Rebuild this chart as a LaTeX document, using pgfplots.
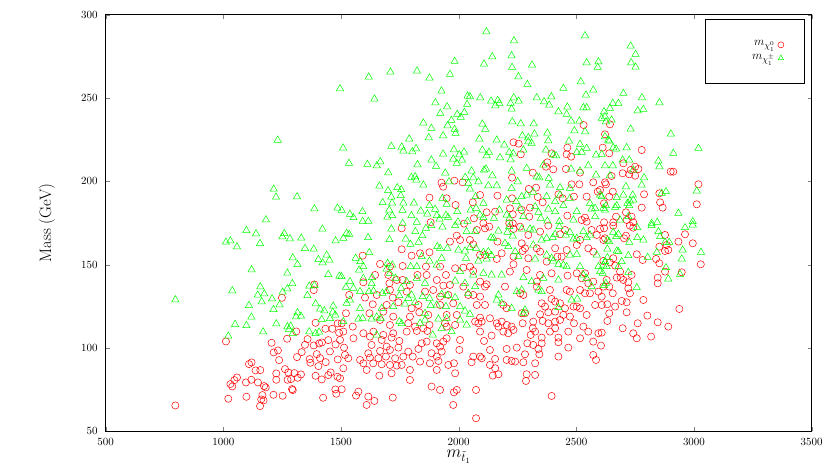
\documentclass[border=0pt]{standalone}
\usepackage{pgfplots}
\pgfplotsset{compat=1.18}
\begin{document}
\begin{tikzpicture}
\useasboundingbox (-105.7pt,-40.7pt) rectangle (724.4pt,431.3pt);
\begin{axis}[
    scale only axis,
    width=706pt,
    height=416.6pt,
    xmin=500, xmax=3500,
    ymin=50, ymax=300,
    xtick={500,1000,...,3500},
    ytick={50,100,...,300},
    /pgf/number format/1000 sep={},
    scaled ticks=false,
    tick align=inside,
    major tick length=4pt,
    axis line style={line width=0.8pt},
    tick label style={font=\fontsize{11}{13}\selectfont},
    xticklabel style={yshift=-3.5pt},
    yticklabel style={xshift=-4.5pt},
    xlabel={$m_{\tilde t_1}$},
    ylabel={Mass (GeV)},
    label style={font=\fontsize{16.5}{20}\selectfont},
    xlabel style={at={(axis description cs:0.5,-0.061)}, anchor=center},
    ylabel style={at={(axis description cs:-0.083,0.5)}, anchor=center},
    legend cell align=right,
    legend plot pos=right,
    legend image post style={mark size=3pt},
    legend style={at={(rel axis cs:0.9895,0.9897)}, anchor=north east,
        font=\fontsize{12.5}{15}\selectfont,
        draw=black, line width=0.6pt, inner xsep=20pt, inner ysep=19pt,
        nodes={inner xsep=3pt, inner ysep=2.5pt, text depth=0.3em}},
]
% neutralino
\addplot[only marks, mark=o, mark size=3.6pt, red, line width=0.5pt] table {
x y
796 65.5
1011 103.9
1205 103.1
1249 130.1
1271 105.5
1310 109.9
1358 105.3
1384 134.7
1387 138.1
1392 115.1
1434 111.5
1463 111.5
1486 114.7
1492 109.1
1214 97.3
1232 98.5
1237 92.7
1313 94.5
1333 97.5
1347 101.9
1384 101.5
1407 102.7
1419 103.3
1446 104.7
1477 102.1
1367 93.3
1370 91.1
1397 96.3
1411 93.9
1435 91.5
1453 97.9
1486 93.1
1109 90.3
1120 91.3
1137 86.5
1157 86.7
1262 87.3
1276 85.3
1288 81.3
1302 84.9
1330 84.1
1225 84.7
1225 80.9
1273 80.9
1316 82.1
1392 83.3
1404 89.1
1446 83.7
1456 85.3
1418 81.1
1485 82.7
1058 82.3
1047 80.7
1030 78.3
1038 76.9
1096 79.3
1119 80.9
1147 79.3
1173 77.1
1180 76.3
1292 75.3
1295 74.7
1476 75.1
1480 72.5
1021 69.5
1098 70.7
1166 71.7
1171 68.5
1161 69.1
1156 65.1
1213 71.9
1252 71.3
1424 70.1
1927 199.2
1934 196.8
1982 200.4
2017 199.4
1876 190.2
1949 189.8
1987 185.8
1881 175.4
2023 174.6
1758 171.8
1758 159.2
1800 155.4
1836 156.8
1876 157.4
1963 163.8
1992 167.4
2006 164.8
1592 155.4
1666 150.4
1708 148.8
1762 149.2
1861 148.8
1921 148.8
1985 147.8
2020 148.2
1645 143.8
1701 143.8
1737 140.8
1825 143.8
1864 143.8
1946 143.8
1595 139.4
1706 138.8
1762 140.8
1793 137.8
1907 140.8
1935 137.4
1963 137.8
2020 136.8
2041 131.8
1535 131.8
1602 130.2
1652 131.8
1708 134.8
1720 130.2
1779 133.8
1857 133.8
1892 134.8
1921 130.8
1956 131.8
1635 126.2
1694 125.8
1744 127.4
1800 123.8
1829 125.8
1921 125.8
1977 126.8
1521 120.8
1621 120.8
1680 121.8
1722 118.8
1793 118.8
1833 121.4
1871 119.8
1949 119.8
1992 119.8
1503 114.8
1550 112.8
1666 116.8
1708 113.8
1786 114.8
1815 112.8
1850 111.8
1876 113.8
1942 114.8
1985 113.8
1510 109.8
1595 108.8
1638 109.8
1680 107.8
1722 108.8
1779 109.8
1822 110.2
1867 110.2
1949 112.8
1496 104.8
1553 105.8
1623 106.8
1673 104.8
1715 106.2
1748 104.2
1843 102.8
1864 103.8
1907 102.8
1935 103.8
1949 105.8
2006 104.8
1513 100.2
1630 101.8
1694 100.8
1744 100.2
1829 99.4
1921 100.8
2003 98.8
1517 95.8
1616 96.8
1666 98.2
1708 98.8
1786 97.8
1885 96.8
1928 97.8
1531 93.8
1581 92.8
1623 94.2
1659 93.8
1691 94.8
1730 93.8
1765 94.8
1805 94.8
1907 94.8
1914 92.2
1595 90.8
1637 90.8
1673 90.2
1708 89.8
1737 89.4
1836 91.8
1878 90.8
1956 89.8
1980 90.8
1510 87.8
1609 86.8
1758 89.8
1793 86.8
1907 86.8
1985 84.8
1663 83.4
1715 84.8
1793 80.8
1496 81.8
1885 76.8
1921 74.8
1992 74.8
1503 75.2
1574 73.8
1564 71.4
1616 70.8
1642 68.2
1609 65.8
1720 70.2
1980 73.4
1977 65.8
2531 233.8
2233 223.4
2255 222.6
2264 216.2
2395 216.8
2462 220.2
2459 216.2
2478 214.8
2377 211.4
2371 208.8
2402 207.2
2456 207.4
2315 205.2
2516 205.2
2227 202.2
2480 198.2
2513 198.2
2572 199.4
2298 195.4
2329 196.2
2091 191.8
2165 191.4
2336 190.6
2357 187.4
2227 189.8
2424 192.2
2442 189.8
2490 190.8
2544 190.8
2591 193.8
2060 187.4
2303 184.2
2218 183.8
2268 182.8
2119 181.4
2155 181.8
2462 179.4
2065 177.8
2230 180.2
2300 178.8
2537 178.2
2523 176.8
2544 175.8
2105 174.8
2215 174.8
2230 174.8
2077 170.8
2112 171.8
2130 172.8
2233 171.4
2261 172.8
2296 167.8
2346 169.8
2381 173.4
2431 168.2
2452 170.8
2565 170.8
2587 167.8
2516 164.8
2502 161.8
2048 164.8
2062 162.2
2165 163.8
2268 162.8
2282 159.8
2272 158.2
2346 157.8
2332 159.8
2410 159.8
2420 154.8
2438 154.8
2459 158.8
2551 159.8
2572 157.8
2091 155.8
2112 155.8
2162 153.4
2183 156.8
2233 154.8
2233 150.2
2296 153.8
2374 151.8
2048 148.8
2062 146.2
2218 145.8
2289 146.8
2346 143.8
2395 144.8
2463 143.4
2502 144.8
2523 141.8
2537 144.8
2551 138.8
2572 139.8
2091 139.8
2112 136.8
2119 138.2
2197 136.8
2261 132.8
2275 131.8
2332 139.8
2332 136.8
2388 134.8
2395 129.4
2410 127.8
2459 134.8
2473 133.8
2537 132.8
2558 132.8
2594 133.8
2516 134.8
2062 131.8
2091 130.8
2077 125.8
2112 125.8
2190 125.8
2204 123.8
2353 126.8
2367 124.8
2431 126.8
2452 123.8
2488 124.8
2502 124.8
2516 123.8
2580 125.8
2091 118.2
2133 117.8
2268 120.8
2282 120.8
2346 120.2
2381 121.4
2410 121.8
2445 119.8
2473 118.8
2544 119.8
2070 115.8
2084 114.8
2098 115.8
2162 114.8
2183 115.8
2204 113.8
2225 112.8
2190 109.8
2211 108.8
2233 110.8
2169 112.8
2272 114.8
2317 115.8
2357 116.2
2381 114.8
2410 115.8
2431 116.8
2490 114.8
2530 112.8
2091 109.8
2315 111.8
2325 109.8
2306 107.8
2353 106.2
2388 109.8
2410 111.8
2466 109.8
2516 105.8
2551 109.8
2594 108.8
2140 107.4
2108 104.2
2424 106.2
2424 103.4
2292 102.8
2317 101.8
2353 102.8
2572 103.8
2133 98.8
2204 99.4
2247 100.2
2282 96.2
2339 99.4
2343 96.2
2466 100.2
2062 94.8
2091 94.8
2098 93.8
2055 91.4
2155 93.4
2204 92.8
2225 92.2
2240 91.8
2275 91.4
2325 90.8
2424 94.8
2572 95.8
2584 92.8
2133 89.8
2155 87.8
2169 84.2
2145 83.4
2289 84.2
2325 83.8
2286 80.2
2074 74.8
2395 71.2
2074 57.8
2643 234.2
2622 228.2
2612 220.2
2640 216.8
2778 218.8
2700 210.8
2750 208.8
2764 207.4
2731 206.8
2697 204.8
2725 204.2
2750 203.4
2650 203.2
2901 205.8
2912 205.8
2622 199.4
2626 198.2
3019 198.2
2655 193.8
2788 192.2
2853 192.8
2640 190.8
2601 194.8
2856 187.4
2867 184.2
2778 184.2
3012 186.2
2618 186.8
2711 181.4
2669 178.8
2735 178.8
2618 175.4
2657 175.4
2714 176.8
2742 175.4
2657 173.4
2728 173.4
2742 172.2
2601 171.4
2618 171.8
2622 165.8
2615 164.8
2711 167.4
2703 165.8
2877 167.8
2962 168.2
2934 163.8
2995 162.8
2853 160.8
2884 161.8
2891 158.8
2877 158.2
2839 153.4
2853 150.8
2757 156.2
2782 152.8
2657 153.8
2643 151.4
2615 152.2
2665 149.4
2686 145.8
3029 150.2
2877 145.8
2948 145.4
2846 142.2
2846 138.8
2735 143.8
2721 139.4
2672 142.2
2689 142.2
2700 140.8
2629 140.8
2640 136.8
2615 136.8
2721 135.8
2728 132.8
2655 132.8
2608 130.8
2608 125.8
2693 128.2
2714 127.4
2785 128.8
2665 124.8
2632 126.2
2938 123.4
2640 120.8
2632 116.2
2714 121.4
2802 119.4
2761 114.8
2846 115.4
2891 112.8
2697 111.8
2608 109.2
2742 108.8
2757 105.8
2818 106.8
2605 101.4
};
\addlegendentry{\hspace*{24pt}$m_{\chi^0_1}$}
% chargino
\addplot[only marks, mark=triangle, mark size=4.2pt, green, line width=0.5pt] table {
x y
1231 224.7
1214 195.3
1224 190.5
1313 190.7
1387 183.5
1485 183.9
1181 176.9
1098 170.5
1139 168.5
1259 168.7
1251 166.7
1283 165.5
1331 165.9
1421 171.3
1477 164.3
1011 163.5
1030 164.3
1058 160.7
1156 162.7
1347 159.7
1384 159.3
1295 154.1
1315 150.1
1404 153.1
1439 155.7
1422 151.1
1451 152.7
1120 146.9
1272 144.9
1446 144.1
1493 143.1
796 128.9
1038 134.3
1157 136.7
1146 131.7
1174 132.5
1163 127.7
1207 129.5
1252 133.5
1272 135.5
1293 138.7
1357 131.5
1365 137.1
1387 137.5
1109 125.5
1213 123.1
1239 125.9
1392 126.5
1467 125.1
1411 123.3
1429 122.3
1465 121.5
1476 119.7
1119 118.5
1315 121.1
1309 118.7
1330 119.1
1453 117.7
1418 117.1
1050 114.1
1098 113.5
1225 114.5
1272 112.7
1286 113.1
1169 109.7
1021 107.1
1365 109.7
1392 108.7
1407 109.5
1295 108.7
1279 111.1
1983 272.0
1710 265.6
1618 262.6
1823 266.2
1876 262.0
1963 264.2
1496 255.6
1642 249.4
1927 254.2
2038 251.2
1901 247.2
1951 244.8
2036 246.2
1922 240.8
1994 240.2
2009 238.4
2024 241.4
1850 235.0
1969 236.6
1953 233.4
1884 231.8
1983 231.2
1987 228.8
1790 225.4
1873 226.2
1934 227.4
1509 220.0
1714 221.0
1758 220.6
1765 218.2
1803 217.8
1819 219.6
1934 216.4
1980 219.0
2003 216.0
2023 217.6
1977 213.4
2014 212.8
1992 210.8
1534 210.8
1612 210.2
1652 209.4
1667 211.8
1825 210.0
1884 212.8
1904 209.0
1701 205.2
1943 205.0
1799 202.4
1815 202.8
1820 200.8
1850 197.8
2028 202.4
2041 198.8
1959 199.8
1663 197.2
1700 194.4
1739 196.2
1756 195.0
1714 190.6
1754 191.4
1931 189.8
1677 187.2
1717 187.0
1765 187.0
1810 187.0
1949 186.2
1503 182.6
1591 181.8
1705 182.8
1761 182.6
1839 182.2
1876 185.4
1900 183.2
1867 180.4
1538 180.2
1553 178.2
1697 178.6
1718 179.4
1799 179.4
1907 179.4
1946 179.6
1955 178.4
1919 177.4
1592 176.0
1616 176.0
1762 174.8
1822 175.4
1997 175.6
2037 176.0
1994 181.8
1524 168.8
1535 168.2
1510 165.8
1615 166.2
1706 165.0
1714 171.4
1775 165.4
1816 169.8
1830 163.4
1846 167.4
1861 171.8
1884 173.4
1931 172.6
1985 173.4
2034 169.8
1795 162.2
1909 160.8
1921 159.8
1952 159.8
1999 158.8
2027 158.2
1620 157.2
1562 153.8
1582 151.8
1595 148.8
1577 146.8
1698 150.8
1718 149.8
1694 147.4
1708 144.8
1796 148.8
1822 148.8
1843 154.8
1876 152.2
1907 149.8
1928 153.8
2031 153.8
2006 145.8
1502 142.8
1595 141.8
1632 142.2
1538 139.8
1521 136.4
1553 135.8
1630 138.6
1731 141.8
1756 135.8
1779 139.8
1822 141.8
1857 138.8
1985 140.2
2027 138.8
1581 133.8
1619 133.8
1638 134.2
1676 132.8
1694 133.8
1748 131.4
1786 129.8
1800 131.8
1847 130.8
1876 129.8
1928 132.2
1952 131.4
1985 130.2
2006 124.8
2041 132.8
1524 126.8
1538 128.8
1581 123.8
1673 123.8
1722 124.8
1772 126.4
1815 127.4
1881 125.4
1907 125.8
1946 124.8
1857 120.8
2027 122.2
1574 117.4
1592 117.8
1630 117.4
1652 118.6
1669 117.8
1748 115.8
1758 114.6
1836 114.8
1857 116.8
1914 117.4
1949 117.8
2006 116.8
1510 115.8
1652 107.8
1890 107.8
1928 111.8
1970 109.8
2034 113.8
2118 289.8
2235 284.4
2537 287.4
2143 274.8
2225 275.4
2108 270.4
2227 268.4
2312 269.8
2544 271.2
2594 271.8
2591 268.4
2254 262.8
2292 258.2
2519 259.8
2445 255.8
2572 254.8
2541 251.8
2048 250.8
2092 250.2
2138 248.2
2166 248.6
2173 246.8
2156 245.4
2234 250.2
2255 248.2
2221 246.8
2225 243.4
2332 250.2
2394 250.8
2363 247.8
2385 245.8
2462 244.6
2424 241.8
2459 240.2
2530 244.2
2544 244.2
2101 234.4
2113 231.2
2228 235.8
2264 234.6
2319 234.6
2478 236.2
2513 236.2
2492 230.4
2537 229.8
2377 229.0
2088 225.4
2162 224.8
2271 227.4
2296 226.2
2322 228.4
2310 222.8
2296 223.8
2381 224.4
2469 224.2
2516 222.2
2194 221.8
2101 218.8
2129 217.4
2119 215.4
2215 217.4
2232 216.6
2176 214.2
2221 213.0
2275 218.8
2371 218.8
2402 215.8
2414 215.4
2502 217.4
2544 219.8
2523 217.4
2584 215.8
2360 209.8
2551 209.4
2055 206.2
2062 202.2
2108 206.8
2116 207.4
2143 203.4
2225 206.2
2289 207.8
2332 202.8
2343 202.2
2383 201.8
2388 197.8
2478 207.4
2516 206.2
2584 203.8
2084 199.8
2126 197.4
2162 197.4
2251 199.8
2225 195.8
2431 196.2
2473 195.8
2048 195.4
2072 190.8
2204 188.8
2244 187.8
2268 190.8
2289 191.8
2317 193.4
2374 190.8
2431 191.8
2473 189.8
2410 187.8
2558 186.8
2580 183.8
2565 183.4
2105 186.8
2051 182.8
2074 183.8
2173 182.8
2261 183.8
2325 184.8
2339 181.4
2381 183.4
2410 181.8
2445 185.4
2502 181.8
2091 179.8
2105 178.2
2150 177.8
2204 179.8
2216 177.8
2275 178.8
2349 177.8
2377 176.2
2428 175.8
2488 176.8
2580 178.8
2070 169.8
2138 166.2
2148 165.8
2169 170.2
2207 169.4
2215 172.8
2230 167.2
2268 171.4
2303 171.4
2317 170.8
2197 162.8
2211 160.8
2353 164.8
2374 165.8
2400 166.2
2410 168.2
2428 172.8
2455 167.8
2473 169.4
2488 165.4
2502 165.8
2530 169.8
2544 166.2
2558 167.8
2048 160.2
2074 159.8
2105 157.4
2126 157.8
2140 155.4
2119 153.4
2084 152.2
2240 157.8
2254 154.8
2317 161.8
2325 153.4
2374 155.8
2395 153.8
2402 152.2
2424 150.2
2445 149.8
2459 148.8
2473 155.8
2502 156.2
2516 148.8
2587 155.8
2594 148.8
2062 143.8
2105 144.8
2140 143.8
2183 143.8
2275 142.2
2310 139.8
2360 141.8
2424 140.8
2530 143.8
2544 141.8
2565 136.8
2070 136.8
2247 133.8
2268 134.8
2339 134.8
2353 133.8
2169 131.8
2162 128.8
2183 126.8
2480 128.8
2504 129.4
2225 123.8
2282 122.8
2424 124.2
2048 120.2
2275 120.8
2731 281.2
2752 276.2
2733 271.2
2752 268.6
2700 252.8
2779 250.2
2853 247.2
2655 246.8
2679 246.8
2643 243.8
2761 242.4
2785 243.2
2618 241.8
2622 238.8
2608 237.8
2626 235.8
2650 236.8
2731 231.4
2902 228.4
2622 226.8
2636 224.8
2640 224.2
2657 220.2
2669 219.4
2714 220.2
3019 219.8
2912 216.8
2608 216.2
2697 212.8
2725 212.8
2849 212.2
2622 209.4
2655 209.4
2853 208.8
2742 206.8
2643 203.4
2788 202.2
2778 197.8
2711 196.8
3012 194.2
2881 193.8
2863 192.8
2700 191.8
2740 191.8
2601 191.8
2608 190.8
2672 190.2
2728 188.2
2742 188.8
2717 186.8
2725 185.4
2672 185.4
2665 184.4
2626 185.4
2615 183.8
2622 182.8
2934 180.8
2721 178.8
2686 176.8
2820 174.8
2844 175.4
2995 175.8
2759 172.2
2820 173.4
2962 172.2
2995 173.8
2657 169.4
2669 166.8
2679 168.2
2632 164.8
2640 163.8
2725 163.4
2759 166.2
2785 164.8
2849 169.8
2856 166.8
2877 163.4
2895 163.4
2632 159.4
2672 158.2
2679 157.8
2721 155.4
2803 154.4
2842 157.4
2952 158.8
3030 157.4
2948 153.4
2632 154.2
2622 151.8
2693 151.8
2615 149.8
2629 148.8
2679 148.8
2721 145.4
2881 148.2
2941 144.2
2891 141.4
2601 145.8
2612 144.8
2626 138.8
2618 137.4
2757 136.2
};
\addlegendentry{\hspace*{24pt}$m_{\chi^\pm_1}$}
\end{axis}
\end{tikzpicture}
\end{document}
